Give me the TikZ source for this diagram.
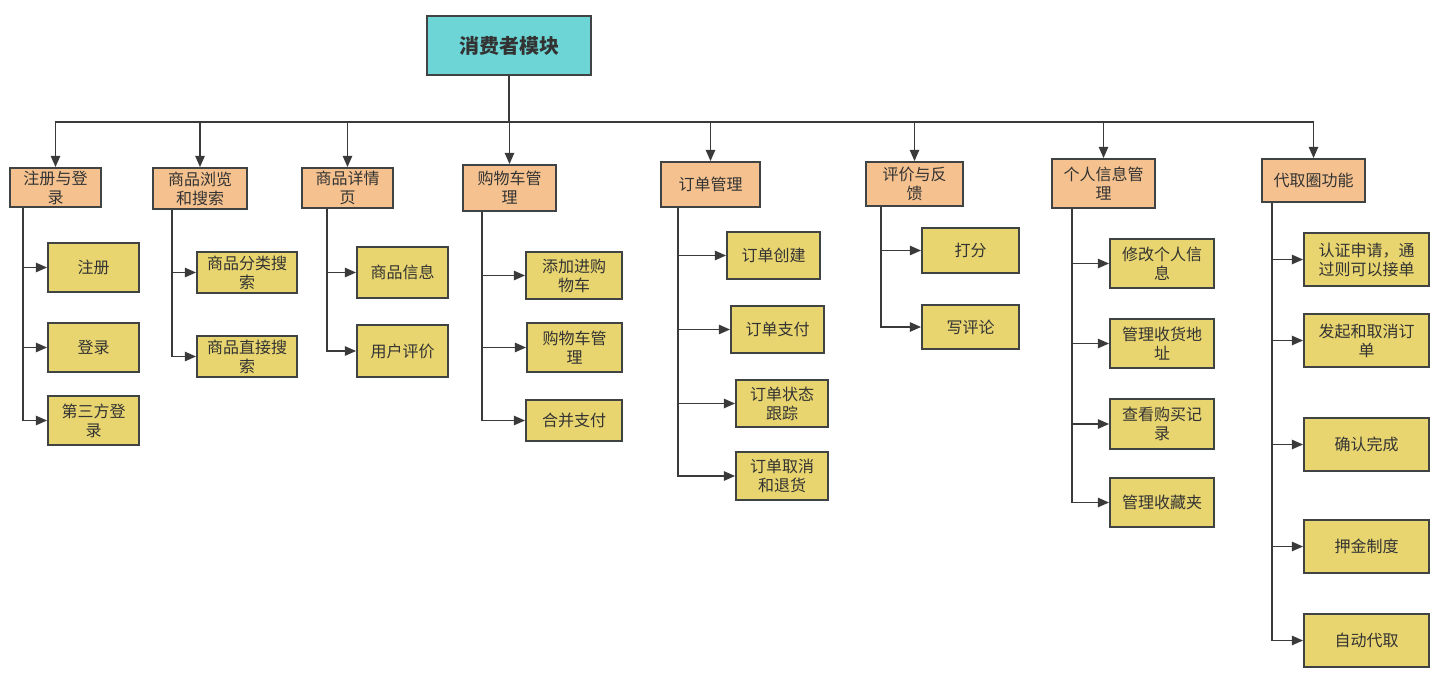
\documentclass[tikz,border=0pt]{standalone}
\usepackage{fontspec}
\setmainfont{Noto Sans CJK SC}
\usetikzlibrary{arrows.meta}
\definecolor{rootc}{HTML}{6DD5D6}
\definecolor{orgc}{HTML}{F5C28F}
\definecolor{yelc}{HTML}{E8D56F}
\definecolor{bordc}{HTML}{404343}
\definecolor{txtc}{HTML}{333333}
\definecolor{linec}{HTML}{3A3A3A}
\begin{document}
\begin{tikzpicture}[x=0.75pt,y=-0.75pt,
  box/.style={draw=bordc, line width=1.3pt, inner sep=0pt, align=center, text=txtc,
    font=\fontsize{12}{14.25}\selectfont},
  sz/.style 2 args={minimum width=#1*0.75pt, minimum height=#2*0.75pt},
  rootbox/.style={box, fill=rootc, font=\fontsize{15}{18}\selectfont\bfseries},
  lvl/.style={box, fill=orgc},
  leaf/.style={box, fill=yelc},
  arr/.style={draw=linec, line width=1.4pt, -{Triangle[length=8.5pt,width=7pt]}}]
\useasboundingbox (0,0) rectangle (1448,681);
% root
\node[rootbox, sz={164}{59}] (root) at (509,45.5) {消费者模块};
% level 1
\node[lvl, sz={91}{39}] (a1) at (55.5,187.5) {注册与登\\录};
\node[lvl, sz={94}{41}] (a2) at (200,188.5) {商品浏览\\和搜索};
\node[lvl, sz={91}{40}] (a3) at (347.5,188) {商品详情\\页};
\node[lvl, sz={93}{46}] (a4) at (509.5,188) {购物车管\\理};
\node[lvl, sz={99}{45}] (a5) at (710.5,184.5) {订单管理};
\node[lvl, sz={97}{44}] (a6) at (914.5,184) {评价与反\\馈};
\node[lvl, sz={103}{49}] (a7) at (1103.5,183.5) {个人信息管\\理};
\node[lvl, sz={103}{43}] (a8) at (1313.5,180.5) {代取圈功能};
% leaves
\node[leaf, sz={91}{49}] (b11) at (93.5,267.5) {注册};
\node[leaf, sz={91}{49}] (b12) at (93.5,347.5) {登录};
\node[leaf, sz={91}{49}] (b13) at (93.5,420.5) {第三方登\\录};
\node[leaf, sz={100}{41}] (b21) at (247,272.5) {商品分类搜\\索};
\node[leaf, sz={100}{41}] (b22) at (247,356.5) {商品直接搜\\索};
\node[leaf, sz={91}{51}] (b31) at (402.5,272.5) {商品信息};
\node[leaf, sz={91}{52}] (b32) at (402.5,351) {用户评价};
\node[leaf, sz={96}{47}] (b41) at (574,275.5) {添加进购\\物车};
\node[leaf, sz={95}{49}] (b42) at (574.5,347.5) {购物车管\\理};
\node[leaf, sz={96}{41}] (b43) at (574,420.5) {合并支付};
\node[leaf, sz={93}{47}] (b51) at (773.5,255.5) {订单创建};
\node[leaf, sz={93}{47}] (b52) at (777.5,329.5) {订单支付};
\node[leaf, sz={92}{47}] (b53) at (782,403.5) {订单状态\\跟踪};
\node[leaf, sz={92}{48}] (b54) at (782,476) {订单取消\\和退货};
\node[leaf, sz={97}{45}] (b61) at (970.5,250.5) {打分};
\node[leaf, sz={97}{44}] (b62) at (970.5,327) {写评论};
\node[leaf, sz={104}{49}] (b71) at (1162,263.5) {修改个人信\\息};
\node[leaf, sz={104}{49}] (b72) at (1162,343.5) {管理收货地\\址};
\node[leaf, sz={104}{50}] (b73) at (1162,424) {查看购买记\\录};
\node[leaf, sz={104}{49}] (b74) at (1162,502.5) {管理收藏夹};
\node[leaf, sz={125}{53}] (b81) at (1366.5,259.5) {认证申请，通\\过则可以接单};
\node[leaf, sz={125}{53}] (b82) at (1366.5,340.5) {发起和取消订\\单};
\node[leaf, sz={125}{53}] (b83) at (1366.5,444.5) {确认完成};
\node[leaf, sz={125}{53}] (b84) at (1366.5,546.5) {押金制度};
\node[leaf, sz={125}{53}] (b85) at (1366.5,640.5) {自动代取};
% root to level 1
\foreach \n in {a1,a2,a3,a4,a5,a6,a7,a8}
  \draw[arr] (root.south) -- ++(0,46) -| (\n.north);
% level 1 to leaves
\foreach \n in {b11,b12,b13} \draw[arr] (a1.south west) ++(14,0) |- (\n.west);
\foreach \n in {b21,b22} \draw[arr] (a2.south west) ++(20,0) |- (\n.west);
\foreach \n in {b31,b32} \draw[arr] (a3.south west) ++(26,0) |- (\n.west);
\foreach \n in {b41,b42,b43} \draw[arr] (a4.south west) ++(20,0) |- (\n.west);
\foreach \n in {b51,b52,b53,b54} \draw[arr] (a5.south west) ++(18,0) |- (\n.west);
\foreach \n in {b61,b62} \draw[arr] (a6.south west) ++(16,0) |- (\n.west);
\foreach \n in {b71,b72,b73,b74} \draw[arr] (a7.south west) ++(21,0) |- (\n.west);
\foreach \n in {b81,b82,b83,b84,b85} \draw[arr] (a8.south west) ++(11,0) |- (\n.west);
\end{tikzpicture}
\end{document}
